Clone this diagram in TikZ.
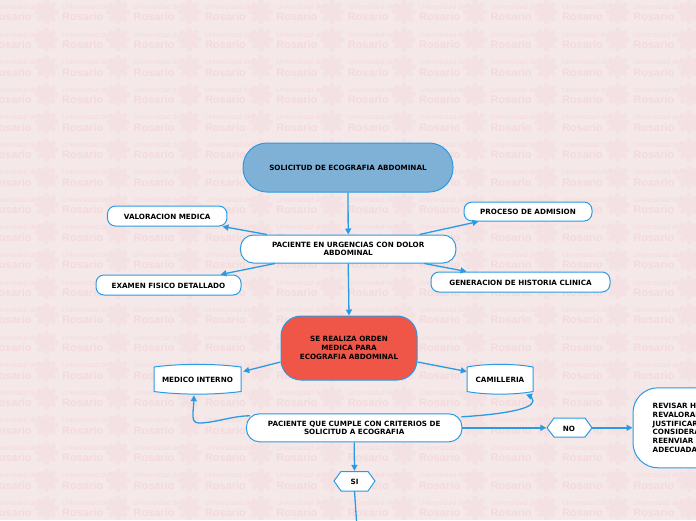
\documentclass[tikz,border=0pt]{standalone}
\usepackage{fontspec}
\setmainfont{DejaVu Sans}
\newfontfamily\wmfont{Liberation Sans}
\usetikzlibrary{arrows.meta}
\definecolor{bgp}{HTML}{F5E8E9}
\definecolor{wm}{HTML}{F4DADC}
\definecolor{wmb}{HTML}{F4E1E3}
\definecolor{lin}{HTML}{2A9BE3}
\definecolor{blu}{HTML}{7FB0D6}
\definecolor{redd}{HTML}{EF5648}
\newcommand{\lbl}{\fontsize{7.2pt}{8.7pt}\selectfont\bfseries}
\tikzset{
 x=1pt,y=-1pt,
 lowered/.style={execute at begin node={\rule{0pt}{7pt}}},
 pill/.style={draw=lin,line width=1pt,fill=white,align=center,inner sep=0pt,font=\lbl,rounded corners=#1,lowered},
 shapeline/.style={draw=lin,line width=1pt,fill=white},
 plain/.style={align=center,inner sep=0pt,font=\lbl,lowered},
 link/.style={draw=lin,line width=1.3pt,-{Triangle[length=6pt,width=6pt]}},
 hlink/.style={link,line width=1.7pt},
 bare/.style={draw=lin,line width=1.3pt},
 wmA/.style={text=wm,inner sep=0pt,anchor=west,font=\wmfont\fontsize{7pt}{8pt}\selectfont},
 wmB/.style={text=wm,inner sep=0pt,anchor=west,font=\wmfont\fontsize{11pt}{12pt}\selectfont\bfseries},
}
\begin{document}
\begin{tikzpicture}
\useasboundingbox (0,0) rectangle (696,520);
\fill[bgp] (0,0) rectangle (696,520);
% watermark
\begin{scope}
\clip (0,0) rectangle (696,520);
\foreach \c in {-1,...,9}{
 \foreach \r in {-1,...,19}{
  \pgfmathsetmacro{\xx}{62+71.4*\c}
  \pgfmathsetmacro{\yy}{7+27.55*\r}
  \fill[wmb] (\xx+56,\yy+5) circle (8.5);
  \foreach \a in {0,45,...,315}{
    \fill[wmb] (\xx+56,\yy+5) ++(\a:9.5) circle (2.6);
  }
  \node[wmA] at (\xx,\yy) {Universidad del};
  \node[wmB] at (\xx,\yy+10) {Rosario};
 }
}
\end{scope}
% nodes
\node[pill=24pt,fill=blu,minimum width=210pt,minimum height=49pt] (sol) at (348,167.5) {SOLICITUD DE ECOGRAFIA ABDOMINAL};
\node[pill=8pt,minimum width=119.5pt,minimum height=20pt] (val) at (167.2,216) {VALORACION MEDICA};
\node[pill=13pt,minimum width=215.5pt,minimum height=28pt] (urg) at (348.2,249) {PACIENTE EN URGENCIAS CON DOLOR\\ABDOMINAL};
\node[pill=8pt,minimum width=145pt,minimum height=20pt] (exa) at (168.5,285) {EXAMEN FISICO DETALLADO};
\node[pill=8pt,minimum width=128pt,minimum height=19pt] (pro) at (528,211.5) {PROCESO DE ADMISION};
\node[pill=8pt,minimum width=179pt,minimum height=20pt] (gen) at (520.5,282) {GENERACION DE HISTORIA CLINICA};
\node[pill=20pt,fill=redd,minimum width=136pt,minimum height=64pt] (ord) at (349,348) {SE REALIZA ORDEN\\MEDICA PARA\\ECOGRAFIA ABDOMINAL};
\draw[shapeline] (154,367) .. controls (180,363.5) and (215,363.5) .. (241,367) -- (241,391.5) .. controls (215,395) and (180,395) .. (154,391.5) -- cycle;
\node[plain,minimum width=87pt,minimum height=29pt] (med) at (197.5,379.5) {MEDICO INTERNO};
\draw[shapeline] (467,367) .. controls (485,363.5) and (515,363.5) .. (533,367) -- (533,391.5) .. controls (515,395) and (485,395) .. (467,391.5) -- cycle;
\node[plain,minimum width=66pt,minimum height=29pt] (cam) at (500,379.5) {CAMILLERIA};
\node[pill=13pt,minimum width=215.5pt,minimum height=28pt] (cum) at (354.2,427.8) {PACIENTE QUE CUMPLE CON CRITERIOS DE\\SOLICITUD A ECOGRAFIA};
\draw[shapeline] (334,481) -- (341,471.5) -- (368,471.5) -- (375,481) -- (368,491) -- (341,491) -- cycle;
\node[plain,minimum width=41pt,minimum height=20pt] (si) at (354.5,481) {SI};
\draw[shapeline] (547,427.8) -- (554,418) -- (585,418) -- (592,427.8) -- (585,437) -- (554,437) -- cycle;
\node[plain,minimum width=45pt,minimum height=19pt] (no) at (569,427.8) {NO};
\node[pill=25pt,minimum width=130pt,minimum height=80pt] (rev) at (698,427.8) {};
\node[plain,anchor=west,align=left] (revt) at (652.5,427.8) {REVISAR H\\REVALORAR\\JUSTIFICAR\\CONSIDERA\\REENVIAR\\ADECUADA};
\coordinate (bot) at (356.5,521);
% connectors
\draw[link] (sol.south) -- (urg.north);
\draw[link] (urg.south) -- (ord.north);
\draw[link] ([xshift=27pt]urg.north west) -- ([xshift=-5pt]val.south east);
\draw[link] ([xshift=35pt]urg.south west) -- ([xshift=-21pt]exa.north east);
\draw[link] ([xshift=-37pt]urg.north east) -- ([xshift=15pt]pro.south west);
\draw[link] ([xshift=-32pt]urg.south east) -- ([xshift=36pt]gen.north west);
\draw[link] ([yshift=-14pt]ord.west) -- ([xshift=2pt,yshift=8pt]med.east);
\draw[link] ([yshift=-14pt]ord.east) -- ([yshift=8pt]cam.west);
\draw[link] ([xshift=4pt,yshift=-2.5pt]cum.north west) .. controls +(-18,0) and (215,423) .. (199,423)
   .. controls (190,423) and (193.5,412) .. ([xshift=-3.5pt,yshift=-1pt]med.south);
\draw[link] ([xshift=-1pt,yshift=-3.5pt]cum.north east) .. controls +(34,-2) and (533,410) .. (533,401)
   .. controls (533,398) and (530,396) .. ([xshift=26pt,yshift=-.5pt]cam.south);
\draw[hlink] (cum.east) -- (no.west);
\draw[hlink] (no.east) -- (rev.west);
\draw[link] (cum.south) -- (si.north);
\draw[bare] (si.south) -- (bot);
\end{tikzpicture}
\end{document}
